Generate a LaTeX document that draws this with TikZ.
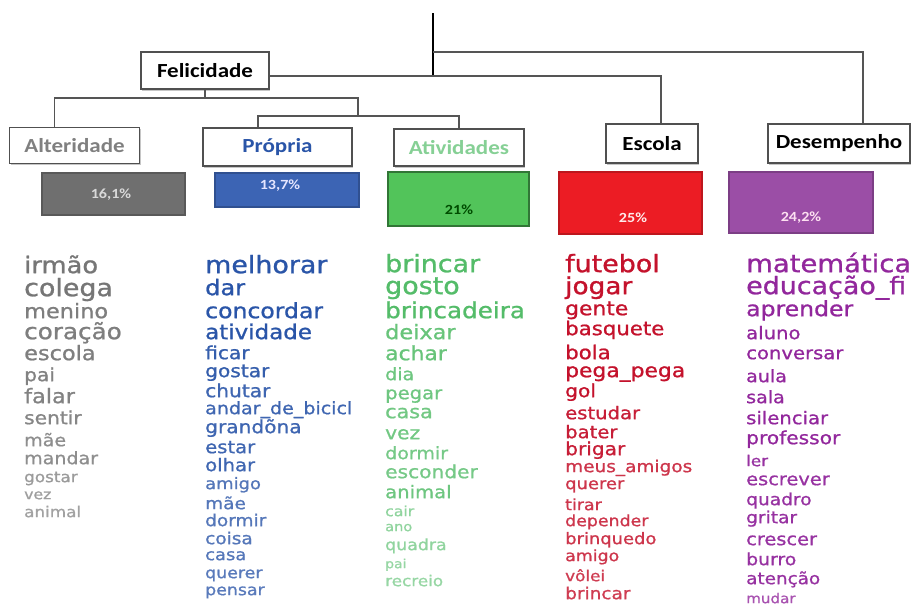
\documentclass[tikz,border=0pt]{standalone}
\usepackage{fontspec}
\usetikzlibrary{shadows}
\newfontfamily\wordfont[FakeStretch=1.12,FakeBold=1]{DejaVu Sans}
\newfontfamily\boxfont[FakeStretch=1.15]{Carlito}

\definecolor{boxline}{HTML}{505050}
\definecolor{linegray}{HTML}{555555}
\definecolor{cgray}{HTML}{5E5E5E}
\definecolor{cblue}{HTML}{2A55A8}
\definecolor{cgreen}{HTML}{36B04E}
\definecolor{cred}{HTML}{C4122C}
\definecolor{cpurple}{HTML}{92279C}
\definecolor{bargray}{HTML}{6F6F6F}
\definecolor{barblue}{HTML}{3C64B4}
\definecolor{bargreen}{HTML}{52C45A}
\definecolor{barred}{HTML}{EC1C24}
\definecolor{barpurple}{HTML}{9B4EA6}

\begin{document}
\begin{tikzpicture}[x=1pt,y=-1pt,
  cat/.style={draw=boxline, line width=1.3pt, fill=white, inner sep=0pt,
    font=\boxfont\bfseries\fontsize{20}{20}\selectfont,
    drop shadow={shadow xshift=1pt, shadow yshift=-1.5pt, fill=black!50, opacity=0.45}},
  bar/.style={line width=1.4pt, inner sep=0pt},
  pct/.style={inner sep=0pt, font=\boxfont\bfseries\fontsize{14}{14}\selectfont},
  link/.style={draw=linegray, line width=1.6pt},
  trunk/.style={draw=black, line width=2pt},
  word/.style={anchor=mid west, inner sep=0pt}]
\useasboundingbox (0,0) rectangle (912,606);

% category boxes
\node[cat, minimum width=128pt, minimum height=37pt] (fel) at (205,70.5) {Felicidade};
\node[cat, minimum width=130pt, minimum height=36pt, text=black!50] (alt) at (74.5,145.5) {Alteridade};
\node[cat, minimum width=149pt, minimum height=38pt, text=cblue] (pro) at (277.5,147) {Própria};
\node[cat, minimum width=130pt, minimum height=37pt, text=cgreen!60] (ati) at (459,147.5) {Atividades};
\node[cat, minimum width=92pt, minimum height=39pt] (esc) at (652,143.5) {Escola};
\node[cat, minimum width=142pt, minimum height=39pt] (des) at (839,143.5) {Desempenho};

% dendrogram connectors
\coordinate (root) at (433,13);
\coordinate (rootfoot) at (433,76);
\coordinate (topjoin) at (433,52);
\coordinate (forkA) at (358,98);
\coordinate (forkB) at (358,116);
\draw[trunk] (root) -- (rootfoot);
\draw[link] (topjoin) -| ([xshift=24pt]des.north);
\draw[link] ([yshift=-5.5pt]fel.east) -| ([xshift=9pt]esc.north);
\draw[link] (fel.south) -- (fel.south |- forkA);
\draw[link] ([xshift=-20pt]alt.north) |- (forkA) -- (forkB);
\draw[link] ([xshift=-19.5pt]pro.north) |- (forkB) -| (ati.north);

% percentage bars
\node[bar, draw=bargray!80!black, fill=bargray, minimum width=143pt, minimum height=42pt] (bg) at (113.5,194) {};
\node[bar, draw=barblue!80!black, fill=barblue, minimum width=144pt, minimum height=34pt] (bb) at (287,190) {};
\node[bar, draw=bargreen!60!black, fill=bargreen, line width=1.8pt, minimum width=141pt, minimum height=54pt] (bgr) at (458.5,199) {};
\node[bar, draw=barred!80!black, fill=barred, minimum width=143pt, minimum height=62pt] (br) at (630.5,203) {};
\node[bar, draw=barpurple!80!black, fill=barpurple, minimum width=144pt, minimum height=61pt] (bp) at (801,202.5) {};
\node[pct, text=black!15] (pg) at (111,195) {16,1\%};
\node[pct, text=blue!10] (pb) at (280,186) {13,7\%};
\node[pct, text=green!30!black] (pgr) at (459,210) {21\%};
\node[pct, text=red!8] (pr) at (633,218) {25\%};
\node[pct, text=magenta!12] (pp) at (801,218) {24,2\%};

% word lists
\foreach \w/\y/\s/\p [count=\i] in {irmão/271/23/85, colega/294/24/85, menino/316/20/80,
  coração/337/22/80, escola/358/20/80, pai/379/18/78, falar/401/20/78, sentir/422/18/75,
  mãe/444/17/70, mandar/462/17/70, gostar/480/15/62, vez/497/14/60, animal/515/15/58}
  \node[word, text=cgray!\p, font={\wordfont\fontsize{\s}{\s}\selectfont}] (wa\i) at (24,\y) {\w};

\foreach \w/\y/\s/\p [count=\i] in {melhorar/271/24/100, dar/293/21.5/100, concordar/316/21/100,
  atividade/337/20.5/100, ficar/357/18/95, gostar/375/18/95, chutar/395/18/90,
  andar\_de\_bicicl/412/17/90, grandõna/431/18/90, estar/451/17.5/90, olhar/469/17.5/90,
  amigo/487/16/80, mãe/507/16.5/80, dormir/524/16.5/80, coisa/542/16.5/80, casa/558/16/80,
  querer/576/15.5/78, pensar/593/15.5/78}
  \node[word, text=cblue!\p, font={\wordfont\fontsize{\s}{\s}\selectfont}] (wb\i) at (205,\y) {\w};

\foreach \w/\y/\s/\p [count=\i] in {brincar/270/24/85, gosto/292/24/85, brincadeira/316/22/85,
  deixar/337/20/75, achar/358/19.5/75, dia/378/17/72, pegar/397/17.5/72, casa/416/18.5/70,
  vez/437/18/70, dormir/457/17/68, esconder/476/18/68, animal/496/17.5/72, cair/514/14/55,
  ano/529/13/55, quadra/548/15.5/55, pai/566/12.5/52, recreio/584/15/52}
  \node[word, text=cgreen!\p, font={\wordfont\fontsize{\s}{\s}\selectfont}] (wc\i) at (385,\y) {\w};

\foreach \w/\y/\s/\p [count=\i] in {futebol/270/24/100, jogar/292/23.5/100, gente/313/19.5/100,
  basquete/333/19/100, bola/357/19/100, pega\_pega/375/19.5/100, gol/395/18/100,
  estudar/417/17.5/95, bater/436/17.5/95, brigar/453/18/95, meus\_amigos/470/16.5/85,
  querer/487/16/85, tirar/508/15.5/85, depender/524/15.5/85, brinquedo/542/16/85,
  amigo/559/15.5/85, vôlei/579/15/82, brincar/597/16.5/82}
  \node[word, text=cred!\p, font={\wordfont\fontsize{\s}{\s}\selectfont}] (wd\i) at (565,\y) {\w};

\foreach \w/\y/\s/\p [count=\i] in {matemática/270/24.5/100, educação\_fi/292/24/100,
  aprender/314/21/100, aluno/337/17.5/100, conversar/357/17.5/100, aula/380/17/100,
  sala/401/17/100, silenciar/422/17.5/100, professor/442/18/100, ler/464/15/95,
  escrever/483/17.3/95, quadro/503/16.6/95, gritar/521/16.6/95, crescer/543/17.3/95,
  burro/563/16.8/95, atenção/582/16.4/95, mudar/601/13.5/80}
  \node[word, text=cpurple!\p, font={\wordfont\fontsize{\s}{\s}\selectfont}] (we\i) at (746,\y) {\w};
\end{tikzpicture}
\end{document}
